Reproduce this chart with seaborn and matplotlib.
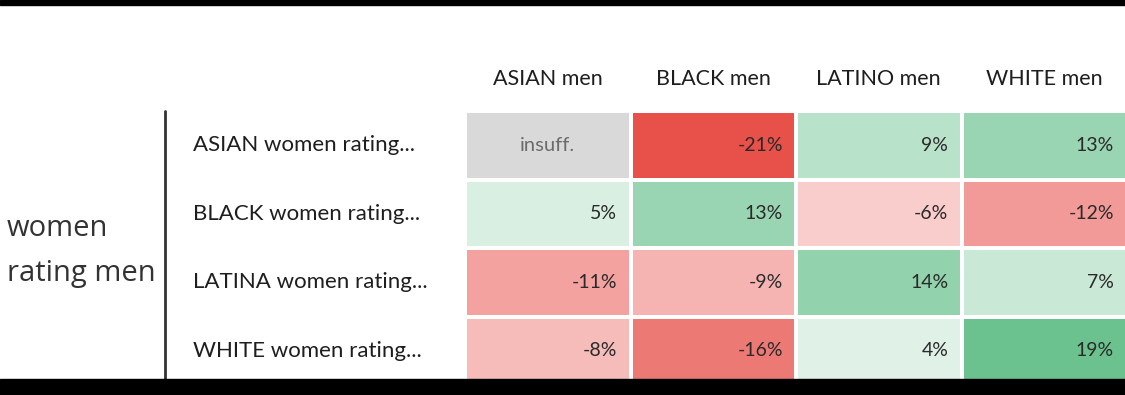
import numpy as np
import pandas as pd
import matplotlib
matplotlib.use("Agg")
import matplotlib.pyplot as plt
import seaborn as sns
from matplotlib.colors import LinearSegmentedColormap, ListedColormap
from matplotlib.patches import Rectangle
from matplotlib.lines import Line2D

# ---- data ----
columns = ["ASIAN men", "BLACK men", "LATINO men", "WHITE men"]
rows = ["ASIAN women rating...", "BLACK women rating...",
        "LATINA women rating...", "WHITE women rating..."]
asian_men = [np.nan, 5, -11, -8]
black_men = [-21, 13, -9, -16]
latino_men = [9, -6, 14, 4]
white_men = [13, -12, 7, 19]
missing_label = "insuff."
group_label_lines = ["women", "rating men"]

df = pd.DataFrame({columns[0]: asian_men, columns[1]: black_men,
                   columns[2]: latino_men, columns[3]: white_men}, index=rows)

sns.set_theme(style="white")
plt.rcParams["font.family"] = ["Lato", "DejaVu Sans"]

W, H = 1125, 395
fig = plt.figure(figsize=(W / 100, H / 100), dpi=100)
fig.patch.set_facecolor("white")

def fx(px):
    return px / W

def fy(py):
    return 1 - py / H

ax = fig.add_axes([fx(465), fy(385), fx(1127) - fx(465), fy(111) - fy(385)])

cmap = LinearSegmentedColormap.from_list(
    "rg", [(0.0, "#E8504A"), (0.5, "#FFFFFF"), (1.0, "#5CBC83")])

sns.heatmap(df, ax=ax, cmap=cmap, vmin=-21, vmax=21, cbar=False,
            linewidths=1.7, linecolor="white")
nan_mask = df.isna()
sns.heatmap(nan_mask.astype(float), mask=~nan_mask, ax=ax,
            cmap=ListedColormap(["#D9D9D9"]), cbar=False,
            linewidths=1.7, linecolor="white")

# cell labels
for i in range(df.shape[0]):
    for j in range(df.shape[1]):
        v = df.iloc[i, j]
        if np.isnan(v):
            ax.text(j + 0.5, i + 0.5, missing_label, ha="center", va="center",
                    fontsize=14.5, color="#6b6b6b")
        else:
            ax.text(j + 1 - 0.08, i + 0.5, f"{v:.0f}%", ha="right", va="center",
                    fontsize=14, color="#2a2a2a")

ax.xaxis.tick_top()
ax.set_xticklabels(columns, rotation=0, fontsize=15.5, color="#1e1e1e")
ax.set_yticklabels(rows, rotation=0, fontsize=16, color="#1e1e1e", ha="left")
ax.tick_params(axis="x", length=0, pad=16)
ax.tick_params(axis="y", length=0, pad=(465 - 193) * 0.72)
ax.set_xlabel("")
ax.set_ylabel("")

# divider line
fig.add_artist(Line2D([fx(165), fx(165)], [fy(395), fy(111)],
                      transform=fig.transFigure, color="#333333", lw=2))

# group label
fig.text(fx(7), fy(228), group_label_lines[0], ha="left", va="center",
         fontsize=21, color="#333333", family=["Open Sans", "DejaVu Sans"])
fig.text(fx(7), fy(273), group_label_lines[1], ha="left", va="center",
         fontsize=21, color="#333333", family=["Open Sans", "DejaVu Sans"])

# black bars (screenshot framing)
fig.add_artist(Rectangle((0, fy(5)), 1, 1 - fy(5), transform=fig.transFigure,
                         color="black", zorder=20))
fig.add_artist(Rectangle((0, 0), 1, fy(379), transform=fig.transFigure,
                         color="black", zorder=20))

fig.savefig("out.png", dpi=100)
